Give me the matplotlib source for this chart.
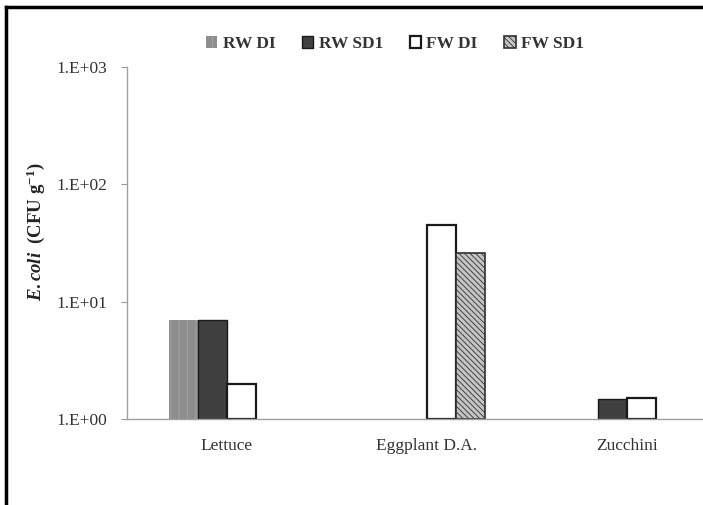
import numpy as np
import matplotlib
matplotlib.use("Agg")
import matplotlib.pyplot as plt
from matplotlib.lines import Line2D
from matplotlib.ticker import FixedLocator, FuncFormatter, NullLocator

plt.rcParams['font.family'] = ['Liberation Serif', 'DejaVu Serif']
plt.rcParams['mathtext.fontset'] = 'custom'
plt.rcParams['mathtext.rm'] = 'Liberation Serif:bold'
plt.rcParams['mathtext.it'] = 'Liberation Serif:italic:bold'
plt.rcParams['hatch.linewidth'] = 0.6

categories = ["Lettuce", "Eggplant D.A.", "Zucchini"]
series = ["RW DI", "RW SD1", "FW DI", "FW SD1"]
rw_di = [7.0, np.nan, np.nan]
rw_sd1 = [7.0, np.nan, 1.47]
fw_di = [2.0, 45.0, 1.52]
fw_sd1 = [np.nan, 26.0, np.nan]
ytick_values = [1, 10, 100, 1000]

values = [rw_di, rw_sd1, fw_di, fw_sd1]
styles = [
    dict(facecolor="#8e8e8e", edgecolor="#a6a6a6", hatch="||", linewidth=0),
    dict(facecolor="#404040", edgecolor="#1a1a1a", linewidth=1.0),
    dict(facecolor="white", edgecolor="#1a1a1a", linewidth=1.6),
    dict(facecolor="#c4c4c4", edgecolor="#303030", hatch="\\\\\\\\\\\\", linewidth=1.2),
]

W, H = 703, 505
fig = plt.figure(figsize=(W / 100, H / 100), dpi=100)
ax = fig.add_axes([127 / W, 86 / H, 600 / W, 352 / H])

x = np.arange(len(categories))
bw = 0.145
for i, (vals, st) in enumerate(zip(values, styles)):
    heights = np.array(vals, dtype=float)
    ax.bar(x + (i - 1.5) * bw, heights - 1, bottom=1, width=bw,
           label=series[i], **st)

ax.set_yscale("log")
ax.set_ylim(1, 1000)
ax.set_xlim(-0.5, 2.5)
ax.yaxis.set_major_locator(FixedLocator(ytick_values))
ax.yaxis.set_minor_locator(NullLocator())
ax.yaxis.set_major_formatter(FuncFormatter(lambda v, p: "1.E+%02d" % round(np.log10(v))))
ax.set_xticks(x)
ax.set_xticklabels(categories, fontsize=12.5, color="#333333")
ax.tick_params(axis="x", length=0, pad=14)
ax.tick_params(axis="y", length=4, color="#999999", labelsize=12.5,
               labelcolor="#333333", pad=10)
for s in ("top", "right"):
    ax.spines[s].set_visible(False)
for s in ("left", "bottom"):
    ax.spines[s].set_color("#a0a0a0")
    ax.spines[s].set_linewidth(1.0)

fig.text(36 / W, 1 - 232 / H, r"$E.coli$  (CFU g$^{-1}$)", rotation=90,
         ha="center", va="center", fontsize=13.5, fontweight="bold", color="#222222")

leg = fig.legend(loc="center", bbox_to_anchor=(395 / W, 1 - 44 / H), ncol=4,
                 frameon=False, handlelength=0.65, handleheight=0.65,
                 handletextpad=0.3, columnspacing=1.55,
                 prop=dict(family="Liberation Serif", weight="bold", size=12.5))
for t in leg.get_texts():
    t.set_color("#333333")

# outer frame
fig.add_artist(Line2D([6 / W, 1.0], [1 - 7 / H, 1 - 7 / H], color="black", linewidth=2.5,
                      transform=fig.transFigure))
fig.add_artist(Line2D([6 / W, 6 / W], [0.0, 1 - 7 / H], color="black", linewidth=2.5,
                      transform=fig.transFigure))

fig.savefig("out.png", dpi=100)
